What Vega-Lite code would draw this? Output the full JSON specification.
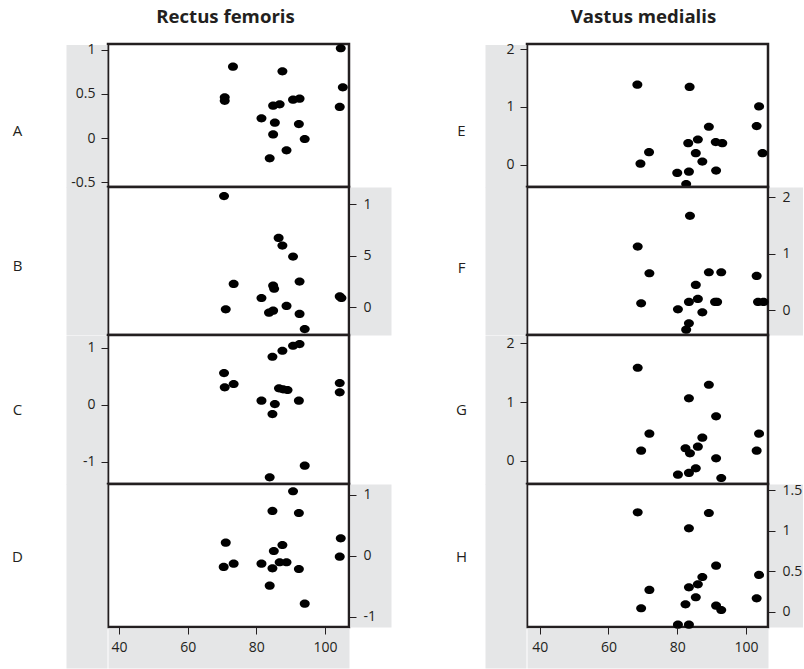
{
  "$schema": "https://vega.github.io/schema/vega-lite/v6.json",
  "background": "white",
  "padding": {"left": -28, "top": 6, "right": 0, "bottom": 0},
  "config": {
    "view": {"stroke": "#231f20", "strokeWidth": 2.5, "fill": "white"},
    "axis": {
      "labelFont": "Open Sans", "labelFontSize": 14, "labelColor": "#231f20",
      "tickColor": "#231f20", "tickSize": 7, "tickWidth": 1, "labelPadding": 6,
      "grid": false, "domain": false
    }
  },
  "datasets": {
    "A": [
      {"x": 73.2, "y": 0.807}, {"x": 87.6, "y": 0.754}, {"x": 104.6, "y": 1.015}, {"x": 70.8, "y": 0.46},
      {"x": 70.8, "y": 0.42}, {"x": 105.2, "y": 0.573}, {"x": 104.3, "y": 0.351}, {"x": 84.9, "y": 0.366},
      {"x": 86.8, "y": 0.381}, {"x": 90.7, "y": 0.433}, {"x": 92.6, "y": 0.445}, {"x": 81.5, "y": 0.222},
      {"x": 85.4, "y": 0.173}, {"x": 92.4, "y": 0.158}, {"x": 84.9, "y": 0.041}, {"x": 94.1, "y": -0.011},
      {"x": 88.8, "y": -0.139}, {"x": 83.9, "y": -0.23}
    ],
    "B": [
      {"x": 70.6, "y": 1.082}, {"x": 86.5, "y": 0.675}, {"x": 87.6, "y": 0.6}, {"x": 90.7, "y": 0.493},
      {"x": 73.4, "y": 0.227}, {"x": 84.9, "y": 0.21}, {"x": 85.2, "y": 0.18}, {"x": 92.6, "y": 0.25},
      {"x": 81.5, "y": 0.09}, {"x": 104.3, "y": 0.105}, {"x": 104.8, "y": 0.09}, {"x": 71.1, "y": -0.02},
      {"x": 84.9, "y": -0.033}, {"x": 83.7, "y": -0.053}, {"x": 88.8, "y": 0.013}, {"x": 92.6, "y": -0.065},
      {"x": 94.1, "y": -0.212}
    ],
    "C": [
      {"x": 84.7, "y": 0.839}, {"x": 87.6, "y": 0.944}, {"x": 90.7, "y": 1.031}, {"x": 92.6, "y": 1.061},
      {"x": 70.6, "y": 0.554}, {"x": 70.8, "y": 0.304}, {"x": 73.4, "y": 0.362}, {"x": 104.3, "y": 0.379},
      {"x": 104.3, "y": 0.216}, {"x": 86.6, "y": 0.286}, {"x": 87.8, "y": 0.27}, {"x": 89.1, "y": 0.257},
      {"x": 81.5, "y": 0.07}, {"x": 85.4, "y": 0.012}, {"x": 84.7, "y": -0.163}, {"x": 92.4, "y": 0.07},
      {"x": 94.1, "y": -1.066}, {"x": 83.9, "y": -1.27}
    ],
    "D": [
      {"x": 90.7, "y": 1.056}, {"x": 84.7, "y": 0.733}, {"x": 92.4, "y": 0.7}, {"x": 71.1, "y": 0.213},
      {"x": 104.6, "y": 0.285}, {"x": 104.3, "y": -0.016}, {"x": 87.6, "y": 0.175}, {"x": 85.1, "y": 0.077},
      {"x": 70.5, "y": -0.185}, {"x": 73.4, "y": -0.131}, {"x": 81.5, "y": -0.131}, {"x": 84.7, "y": -0.207},
      {"x": 86.8, "y": -0.108}, {"x": 88.8, "y": -0.108}, {"x": 92.4, "y": -0.218}, {"x": 83.9, "y": -0.492},
      {"x": 94.1, "y": -0.787}
    ],
    "E": [
      {"x": 68.4, "y": 1.386}, {"x": 83.6, "y": 1.346}, {"x": 103.8, "y": 1.009}, {"x": 103.1, "y": 0.668},
      {"x": 104.8, "y": 0.198}, {"x": 89.2, "y": 0.656}, {"x": 86.0, "y": 0.435}, {"x": 83.2, "y": 0.372},
      {"x": 91.2, "y": 0.39}, {"x": 93.1, "y": 0.372}, {"x": 71.8, "y": 0.216}, {"x": 85.4, "y": 0.198},
      {"x": 69.3, "y": 0.017}, {"x": 87.3, "y": 0.052}, {"x": 80.0, "y": -0.144}, {"x": 83.4, "y": -0.122},
      {"x": 91.3, "y": -0.104}, {"x": 82.6, "y": -0.336}
    ],
    "F": [
      {"x": 83.7, "y": 1.673}, {"x": 68.5, "y": 1.128}, {"x": 71.9, "y": 0.655}, {"x": 89.2, "y": 0.673},
      {"x": 92.8, "y": 0.673}, {"x": 103.1, "y": 0.607}, {"x": 85.4, "y": 0.448}, {"x": 69.5, "y": 0.122},
      {"x": 83.4, "y": 0.146}, {"x": 86.0, "y": 0.199}, {"x": 91.0, "y": 0.146}, {"x": 91.6, "y": 0.146},
      {"x": 103.5, "y": 0.146}, {"x": 105.1, "y": 0.146}, {"x": 80.2, "y": 0.016}, {"x": 87.3, "y": -0.037},
      {"x": 83.4, "y": -0.233}, {"x": 82.6, "y": -0.346}
    ],
    "G": [
      {"x": 68.5, "y": 1.581}, {"x": 89.2, "y": 1.293}, {"x": 83.4, "y": 1.063}, {"x": 91.3, "y": 0.758},
      {"x": 71.9, "y": 0.463}, {"x": 103.8, "y": 0.463}, {"x": 87.3, "y": 0.395}, {"x": 86.0, "y": 0.242},
      {"x": 82.4, "y": 0.215}, {"x": 83.7, "y": 0.13}, {"x": 69.5, "y": 0.175}, {"x": 103.1, "y": 0.175},
      {"x": 91.3, "y": 0.046}, {"x": 80.2, "y": -0.232}, {"x": 83.4, "y": -0.203}, {"x": 85.4, "y": -0.124},
      {"x": 92.8, "y": -0.288}
    ],
    "H": [
      {"x": 68.5, "y": 1.226}, {"x": 89.2, "y": 1.217}, {"x": 83.4, "y": 1.028}, {"x": 91.3, "y": 0.567},
      {"x": 103.8, "y": 0.453}, {"x": 87.3, "y": 0.428}, {"x": 86.0, "y": 0.338}, {"x": 83.4, "y": 0.301},
      {"x": 71.9, "y": 0.268}, {"x": 85.4, "y": 0.178}, {"x": 103.1, "y": 0.165}, {"x": 82.4, "y": 0.091},
      {"x": 91.3, "y": 0.074}, {"x": 92.8, "y": 0.021}, {"x": 69.5, "y": 0.042}, {"x": 80.2, "y": -0.16},
      {"x": 83.4, "y": -0.16}
    ]
  },
  "bounds": "flush",
  "columns": 2,
  "spacing": {"row": 0, "column": 178},
  "concat": [
    {
      "width": 241, "height": 143,
      "title": {"text": "Rectus femoris", "font": "Open Sans", "fontSize": 18.6, "fontWeight": "bold", "color": "#231f20", "anchor": "middle", "frame": "group", "baseline": "alphabetic", "offset": 1, "dx": -3},
      "data": {"name": "A"},
      "resolve": {"axis": {"x": "independent", "y": "independent"}},
      "layer": [
        {
          "mark": {"type": "point", "opacity": 0},
          "encoding": {
            "x": {"field": "x", "type": "quantitative", "scale": {"domain": [36.8, 107.0], "nice": false, "zero": false}, "axis": null},
            "y": {"field": "y", "type": "quantitative", "scale": {"domain": [-0.554, 1.063], "nice": false, "zero": false},
                  "axis": {"orient": "left", "offset": 1, "domain": false, "labels": false, "ticks": true, "values": [0.2545], "tickSize": 41, "tickWidth": 143, "tickColor": "#e5e6e7", "tickCap": "butt", "zindex": 0,
                           "title": "A", "titleAngle": 0, "titleX": -90, "titleY": 86, "titleAlign": "center", "titleBaseline": "middle", "titleFont": "Open Sans", "titleFontSize": 15, "titleFontWeight": "normal", "titleColor": "#231f20"}}
          }
        },
        {
          "mark": {"type": "point", "filled": true, "shape": "M-1,0A1,0.82,0,1,0,1,0A1,0.82,0,1,0,-1,0Z", "size": 100, "color": "#000000", "opacity": 1},
          "encoding": {
            "x": {"field": "x", "type": "quantitative", "scale": {"domain": [36.8, 107.0], "nice": false, "zero": false}, "axis": null},
            "y": {"field": "y", "type": "quantitative", "scale": {"domain": [-0.554, 1.063], "nice": false, "zero": false},
                  "axis": {"orient": "left", "values": [-0.5, 0, 0.5, 1], "labelExpr": "'' + datum.value", "title": null, "zindex": 1}}
          }
        }
      ]
    },
    {
      "width": 241, "height": 143,
      "title": {"text": "Vastus medialis", "font": "Open Sans", "fontSize": 18.6, "fontWeight": "bold", "color": "#231f20", "anchor": "middle", "frame": "group", "baseline": "alphabetic", "offset": 1, "dx": -4},
      "data": {"name": "E"},
      "resolve": {"axis": {"x": "independent", "y": "independent"}},
      "layer": [
        {
          "mark": {"type": "point", "opacity": 0},
          "encoding": {
            "x": {"field": "x", "type": "quantitative", "scale": {"domain": [36.3, 106.4], "nice": false, "zero": false}, "axis": null},
            "y": {"field": "y", "type": "quantitative", "scale": {"domain": [-0.388, 2.09], "nice": false, "zero": false},
                  "axis": {"orient": "left", "offset": 1, "domain": false, "labels": false, "ticks": true, "values": [0.851], "tickSize": 41, "tickWidth": 143, "tickColor": "#e5e6e7", "tickCap": "butt", "zindex": 0,
                           "title": "E", "titleAngle": 0, "titleX": -65, "titleY": 86, "titleAlign": "center", "titleBaseline": "middle", "titleFont": "Open Sans", "titleFontSize": 15, "titleFontWeight": "normal", "titleColor": "#231f20"}}
          }
        },
        {
          "mark": {"type": "point", "filled": true, "shape": "M-1,0A1,0.82,0,1,0,1,0A1,0.82,0,1,0,-1,0Z", "size": 100, "color": "#000000", "opacity": 1},
          "encoding": {
            "x": {"field": "x", "type": "quantitative", "scale": {"domain": [36.3, 106.4], "nice": false, "zero": false}, "axis": null},
            "y": {"field": "y", "type": "quantitative", "scale": {"domain": [-0.388, 2.09], "nice": false, "zero": false},
                  "axis": {"orient": "left", "values": [0, 1, 2], "labelExpr": "'' + datum.value", "title": null, "zindex": 1}}
          }
        }
      ]
    },
    {
      "width": 241, "height": 148,
      "data": {"name": "B"},
      "resolve": {"axis": {"x": "independent", "y": "independent"}},
      "layer": [
        {
          "mark": {"type": "point", "opacity": 0},
          "encoding": {
            "x": {"field": "x", "type": "quantitative", "scale": {"domain": [36.8, 107.0], "nice": false, "zero": false}, "axis": null},
            "y": {"field": "y", "type": "quantitative", "scale": {"domain": [-0.27, 1.17], "nice": false, "zero": false},
                  "axis": {"orient": "left", "offset": 1, "domain": false, "labels": false, "ticks": true, "values": [0.45], "tickSize": 41, "tickWidth": 148, "tickColor": "#e5e6e7", "tickCap": "butt", "zindex": 0,
                           "title": "B", "titleAngle": 0, "titleX": -90, "titleY": 78, "titleAlign": "center", "titleBaseline": "middle", "titleFont": "Open Sans", "titleFontSize": 15, "titleFontWeight": "normal", "titleColor": "#231f20"}}
          }
        },
        {
          "mark": {"type": "point", "opacity": 0},
          "encoding": {
            "x": {"field": "x", "type": "quantitative", "scale": {"domain": [36.8, 107.0], "nice": false, "zero": false}, "axis": null},
            "y": {"field": "y", "type": "quantitative", "scale": {"domain": [-0.27, 1.17], "nice": false, "zero": false},
                  "axis": {"orient": "right", "offset": 21.5, "domain": true, "domainColor": "#e5e6e7", "domainWidth": 41, "domainCap": "butt", "ticks": false, "labels": false, "zindex": 0, "title": null}}
          }
        },
        {
          "mark": {"type": "point", "filled": true, "shape": "M-1,0A1,0.82,0,1,0,1,0A1,0.82,0,1,0,-1,0Z", "size": 100, "color": "#000000", "opacity": 1},
          "encoding": {
            "x": {"field": "x", "type": "quantitative", "scale": {"domain": [36.8, 107.0], "nice": false, "zero": false}, "axis": null},
            "y": {"field": "y", "type": "quantitative", "scale": {"domain": [-0.27, 1.17], "nice": false, "zero": false},
                  "axis": {"orient": "right", "values": [0, 0.5, 1], "labelPadding": 7, "labelExpr": "datum.value == 0.5 ? '5' : '' + datum.value", "title": null, "zindex": 1}}
          }
        }
      ]
    },
    {
      "width": 241, "height": 148,
      "data": {"name": "F"},
      "resolve": {"axis": {"x": "independent", "y": "independent"}},
      "layer": [
        {
          "mark": {"type": "point", "opacity": 0},
          "encoding": {
            "x": {"field": "x", "type": "quantitative", "scale": {"domain": [36.3, 106.4], "nice": false, "zero": false}, "axis": null},
            "y": {"field": "y", "type": "quantitative", "scale": {"domain": [-0.44, 2.185], "nice": false, "zero": false},
                  "axis": {"orient": "left", "offset": 1, "domain": false, "labels": false, "ticks": true, "values": [0.8725], "tickSize": 41, "tickWidth": 148, "tickColor": "#e5e6e7", "tickCap": "butt", "zindex": 0,
                           "title": "F", "titleAngle": 0, "titleX": -65, "titleY": 80, "titleAlign": "center", "titleBaseline": "middle", "titleFont": "Open Sans", "titleFontSize": 15, "titleFontWeight": "normal", "titleColor": "#231f20"}}
          }
        },
        {
          "mark": {"type": "point", "opacity": 0},
          "encoding": {
            "x": {"field": "x", "type": "quantitative", "scale": {"domain": [36.3, 106.4], "nice": false, "zero": false}, "axis": null},
            "y": {"field": "y", "type": "quantitative", "scale": {"domain": [-0.44, 2.185], "nice": false, "zero": false},
                  "axis": {"orient": "right", "offset": 18.5, "domain": true, "domainColor": "#e5e6e7", "domainWidth": 34, "domainCap": "butt", "ticks": false, "labels": false, "zindex": 0, "title": null}}
          }
        },
        {
          "mark": {"type": "point", "filled": true, "shape": "M-1,0A1,0.82,0,1,0,1,0A1,0.82,0,1,0,-1,0Z", "size": 100, "color": "#000000", "opacity": 1},
          "encoding": {
            "x": {"field": "x", "type": "quantitative", "scale": {"domain": [36.3, 106.4], "nice": false, "zero": false}, "axis": null},
            "y": {"field": "y", "type": "quantitative", "scale": {"domain": [-0.44, 2.185], "nice": false, "zero": false},
                  "axis": {"orient": "right", "values": [0, 1, 2], "labelPadding": 7, "labelExpr": "'' + datum.value", "title": null, "zindex": 1}}
          }
        }
      ]
    },
    {
      "width": 241, "height": 149,
      "data": {"name": "C"},
      "resolve": {"axis": {"x": "independent", "y": "independent"}},
      "layer": [
        {
          "mark": {"type": "point", "opacity": 0},
          "encoding": {
            "x": {"field": "x", "type": "quantitative", "scale": {"domain": [36.8, 107.0], "nice": false, "zero": false}, "axis": null},
            "y": {"field": "y", "type": "quantitative", "scale": {"domain": [-1.386, 1.219], "nice": false, "zero": false},
                  "axis": {"orient": "left", "offset": 1, "domain": false, "labels": false, "ticks": true, "values": [-0.0835], "tickSize": 41, "tickWidth": 149, "tickColor": "#e5e6e7", "tickCap": "butt", "zindex": 0,
                           "title": "C", "titleAngle": 0, "titleX": -90, "titleY": 74, "titleAlign": "center", "titleBaseline": "middle", "titleFont": "Open Sans", "titleFontSize": 15, "titleFontWeight": "normal", "titleColor": "#231f20"}}
          }
        },
        {
          "mark": {"type": "point", "filled": true, "shape": "M-1,0A1,0.82,0,1,0,1,0A1,0.82,0,1,0,-1,0Z", "size": 100, "color": "#000000", "opacity": 1},
          "encoding": {
            "x": {"field": "x", "type": "quantitative", "scale": {"domain": [36.8, 107.0], "nice": false, "zero": false}, "axis": null},
            "y": {"field": "y", "type": "quantitative", "scale": {"domain": [-1.386, 1.219], "nice": false, "zero": false},
                  "axis": {"orient": "left", "values": [-1, 0, 1], "labelExpr": "'' + datum.value", "title": null, "zindex": 1}}
          }
        }
      ]
    },
    {
      "width": 241, "height": 149,
      "data": {"name": "G"},
      "resolve": {"axis": {"x": "independent", "y": "independent"}},
      "layer": [
        {
          "mark": {"type": "point", "opacity": 0},
          "encoding": {
            "x": {"field": "x", "type": "quantitative", "scale": {"domain": [36.3, 106.4], "nice": false, "zero": false}, "axis": null},
            "y": {"field": "y", "type": "quantitative", "scale": {"domain": [-0.39, 2.136], "nice": false, "zero": false},
                  "axis": {"orient": "left", "offset": 1, "domain": false, "labels": false, "ticks": true, "values": [0.873], "tickSize": 41, "tickWidth": 149, "tickColor": "#e5e6e7", "tickCap": "butt", "zindex": 0,
                           "title": "G", "titleAngle": 0, "titleX": -65, "titleY": 74, "titleAlign": "center", "titleBaseline": "middle", "titleFont": "Open Sans", "titleFontSize": 15, "titleFontWeight": "normal", "titleColor": "#231f20"}}
          }
        },
        {
          "mark": {"type": "point", "filled": true, "shape": "M-1,0A1,0.82,0,1,0,1,0A1,0.82,0,1,0,-1,0Z", "size": 100, "color": "#000000", "opacity": 1},
          "encoding": {
            "x": {"field": "x", "type": "quantitative", "scale": {"domain": [36.3, 106.4], "nice": false, "zero": false}, "axis": null},
            "y": {"field": "y", "type": "quantitative", "scale": {"domain": [-0.39, 2.136], "nice": false, "zero": false},
                  "axis": {"orient": "left", "values": [0, 1, 2], "labelExpr": "'' + datum.value", "title": null, "zindex": 1}}
          }
        }
      ]
    },
    {
      "width": 241, "height": 143,
      "data": {"name": "D"},
      "resolve": {"axis": {"x": "independent", "y": "independent"}},
      "layer": [
        {
          "mark": {"type": "point", "opacity": 0},
          "encoding": {
            "x": {"field": "x", "type": "quantitative", "scale": {"domain": [36.8, 107.0], "nice": false, "zero": false},
                  "axis": {"orient": "bottom", "offset": 21, "domain": true, "domainColor": "#e5e6e7", "domainWidth": 40, "domainCap": "butt", "ticks": false, "labels": false, "zindex": 0, "title": null}},
            "y": {"field": "y", "type": "quantitative", "scale": {"domain": [-1.169, 1.175], "nice": false, "zero": false},
                  "axis": {"orient": "left", "offset": 1, "domain": false, "labels": false, "ticks": true, "values": [0.003], "tickSize": 41, "tickWidth": 184, "tickOffset": 20.5, "tickColor": "#e5e6e7", "tickCap": "butt", "zindex": 0,
                           "title": "D", "titleAngle": 0, "titleX": -90, "titleY": 72, "titleAlign": "center", "titleBaseline": "middle", "titleFont": "Open Sans", "titleFontSize": 15, "titleFontWeight": "normal", "titleColor": "#231f20"}}
          }
        },
        {
          "mark": {"type": "point", "opacity": 0},
          "encoding": {
            "x": {"field": "x", "type": "quantitative", "scale": {"domain": [36.8, 107.0], "nice": false, "zero": false}, "axis": null},
            "y": {"field": "y", "type": "quantitative", "scale": {"domain": [-1.169, 1.175], "nice": false, "zero": false},
                  "axis": {"orient": "right", "offset": 21.5, "domain": true, "domainColor": "#e5e6e7", "domainWidth": 41, "domainCap": "butt", "ticks": false, "labels": false, "zindex": 0, "title": null}}
          }
        },
        {
          "mark": {"type": "point", "filled": true, "shape": "M-1,0A1,0.82,0,1,0,1,0A1,0.82,0,1,0,-1,0Z", "size": 100, "color": "#000000", "opacity": 1},
          "encoding": {
            "x": {"field": "x", "type": "quantitative", "scale": {"domain": [36.8, 107.0], "nice": false, "zero": false},
                  "axis": {"orient": "bottom", "values": [40, 60, 80, 100], "labelPadding": 6, "title": null, "zindex": 1}},
            "y": {"field": "y", "type": "quantitative", "scale": {"domain": [-1.169, 1.175], "nice": false, "zero": false},
                  "axis": {"orient": "right", "values": [-1, 0, 1], "labelPadding": 7, "labelExpr": "'' + datum.value", "title": null, "zindex": 1}}
          }
        }
      ]
    },
    {
      "width": 241, "height": 143,
      "data": {"name": "H"},
      "resolve": {"axis": {"x": "independent", "y": "independent"}},
      "layer": [
        {
          "mark": {"type": "point", "opacity": 0},
          "encoding": {
            "x": {"field": "x", "type": "quantitative", "scale": {"domain": [36.3, 106.4], "nice": false, "zero": false},
                  "axis": {"orient": "bottom", "offset": 21, "domain": true, "domainColor": "#e5e6e7", "domainWidth": 40, "domainCap": "butt", "ticks": false, "labels": false, "zindex": 0, "title": null}},
            "y": {"field": "y", "type": "quantitative", "scale": {"domain": [-0.189, 1.575], "nice": false, "zero": false},
                  "axis": {"orient": "left", "offset": 1, "domain": false, "labels": false, "ticks": true, "values": [0.693], "tickSize": 41, "tickWidth": 184, "tickOffset": 20.5, "tickColor": "#e5e6e7", "tickCap": "butt", "zindex": 0,
                           "title": "H", "titleAngle": 0, "titleX": -65, "titleY": 72, "titleAlign": "center", "titleBaseline": "middle", "titleFont": "Open Sans", "titleFontSize": 15, "titleFontWeight": "normal", "titleColor": "#231f20"}}
          }
        },
        {
          "mark": {"type": "point", "opacity": 0},
          "encoding": {
            "x": {"field": "x", "type": "quantitative", "scale": {"domain": [36.3, 106.4], "nice": false, "zero": false}, "axis": null},
            "y": {"field": "y", "type": "quantitative", "scale": {"domain": [-0.189, 1.575], "nice": false, "zero": false},
                  "axis": {"orient": "right", "offset": 18.5, "domain": true, "domainColor": "#e5e6e7", "domainWidth": 34, "domainCap": "butt", "ticks": false, "labels": false, "zindex": 0, "title": null}}
          }
        },
        {
          "mark": {"type": "point", "filled": true, "shape": "M-1,0A1,0.82,0,1,0,1,0A1,0.82,0,1,0,-1,0Z", "size": 100, "color": "#000000", "opacity": 1},
          "encoding": {
            "x": {"field": "x", "type": "quantitative", "scale": {"domain": [36.3, 106.4], "nice": false, "zero": false},
                  "axis": {"orient": "bottom", "values": [40, 60, 80, 100], "labelPadding": 6, "title": null, "zindex": 1}},
            "y": {"field": "y", "type": "quantitative", "scale": {"domain": [-0.189, 1.575], "nice": false, "zero": false},
                  "axis": {"orient": "right", "values": [0, 0.5, 1, 1.5], "labelPadding": 7, "labelExpr": "'' + datum.value", "title": null, "zindex": 1}}
          }
        }
      ]
    }
  ]
}
